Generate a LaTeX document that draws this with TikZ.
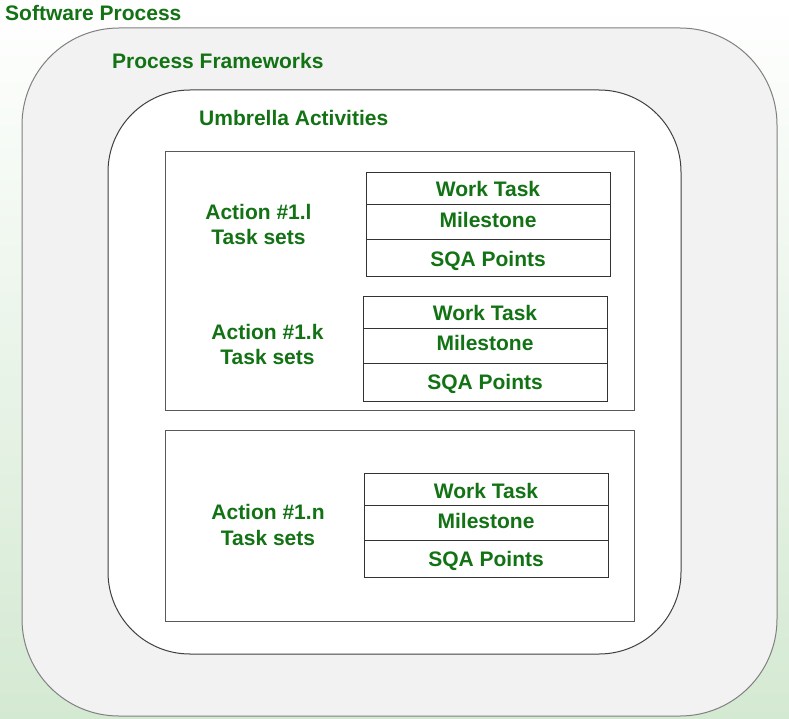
\documentclass[tikz,border=0pt]{standalone}
\usepackage{fontspec}
\setmainfont{Liberation Sans}
\definecolor{txtgreen}{RGB}{18,114,20}
\definecolor{bggreen}{RGB}{212,233,210}
\definecolor{outerfill}{RGB}{242,242,242}
\begin{document}
\begin{tikzpicture}[x=1pt,y=-1pt,
  lbl/.style={text=txtgreen,font=\fontsize{21}{25.5}\selectfont\bfseries,inner sep=0pt,align=center},
  head/.style={text=txtgreen,font=\fontsize{21}{25}\selectfont\bfseries,inner sep=0pt,anchor=west},
  cell/.style={draw=black!80,line width=0.9pt,fill=white,minimum width=244pt,inner sep=0pt,
    text=txtgreen,font=\fontsize{21}{25}\selectfont\bfseries},
  vs/.style={text height=#1,text depth=0pt},
  actbox/.style={draw=black!65,line width=1pt,fill=white,minimum width=469pt,inner sep=0pt}]
\useasboundingbox (0,0) rectangle (789,719);
\shade[top color=white,bottom color=bggreen] (0,0) rectangle (789,719);
% containers
\node[draw=black!50,line width=1pt,fill=outerfill,rounded corners=97pt,
  minimum width=755pt,minimum height=688pt,inner sep=0pt] (sp) at (399.5,372) {};
\node[draw=black!75,line width=1pt,fill=white,rounded corners=82pt,
  minimum width=573pt,minimum height=564pt,inner sep=0pt] (pf) at (394.5,372) {};
\node[actbox,minimum height=258pt] (ua1) at (399.5,281) {};
\node[actbox,minimum height=191pt] (ua2) at (399.5,525.5) {};
% headings
\node[head] (tsp) at (5,13) {Software Process};
\node[head] (tpf) at (112,61) {Process Frameworks};
\node[head] (tua) at (199,118) {Umbrella Activities};
% action labels
\node[lbl] (a1) at (258.5,224.5) {Action \#1.l\\Task sets};
\node[lbl] (a2) at (267.5,344.5) {Action \#1.k\\Task sets};
\node[lbl] (a3) at (268,525) {Action \#1.n\\Task sets};
% table 1
\node[cell,minimum height=32pt,vs=17pt] (t1a) at (488,188) {Work Task};
\node[cell,minimum height=35pt,vs=12pt] (t1b) at (488,221.5) {Milestone};
\node[cell,minimum height=37pt,vs=17pt] (t1c) at (488,257.5) {SQA Points};
% table 2
\node[cell,minimum height=32pt,vs=17pt] (t2a) at (485,312) {Work Task};
\node[cell,minimum height=35pt,vs=10pt] (t2b) at (485,345.5) {Milestone};
\node[cell,minimum height=38pt,vs=15pt] (t2c) at (485,382) {SQA Points};
% table 3
\node[cell,minimum height=32pt,vs=19pt] (t3a) at (486,489) {Work Task};
\node[cell,minimum height=35pt,vs=12pt] (t3b) at (486,522.5) {Milestone};
\node[cell,minimum height=37pt,vs=16pt] (t3c) at (486,558.5) {SQA Points};
\end{tikzpicture}
\end{document}
